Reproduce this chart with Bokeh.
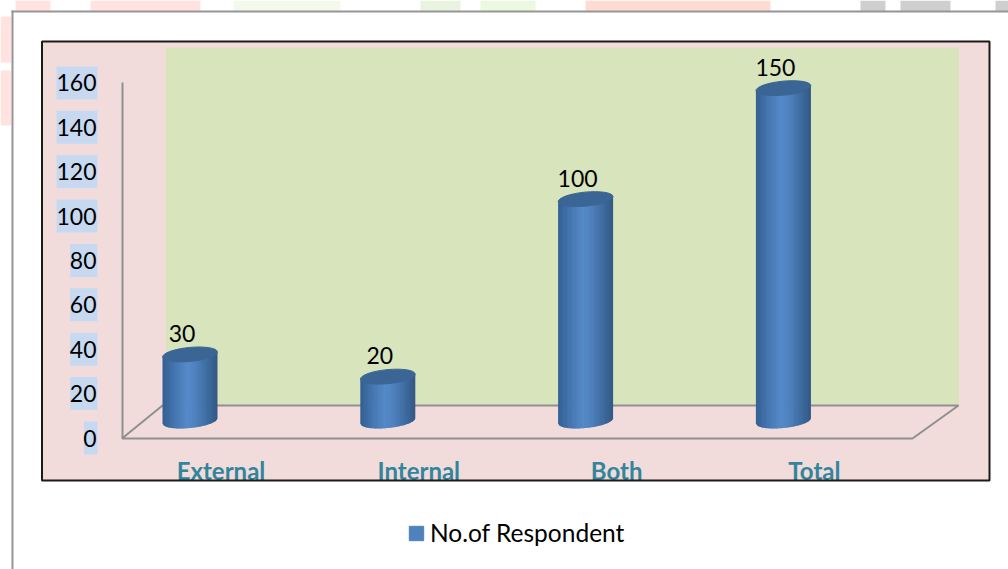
import numpy as np
from bokeh.plotting import figure
from bokeh.embed import file_html
from bokeh.resources import INLINE
from bokeh.core.properties import value
from bokeh.models import (BoxAnnotation, PolyAnnotation, FixedTicker, Legend, LegendItem,
                          ColumnDataSource, Range1d)

categories = ["External", "Internal", "Both", "Total"]
respondents = [30, 20, 100, 150]
y_ticks = [0, 20, 40, 60, 80, 100, 120, 140, 160]
series_name = "No.of Respondent"

W, H = 1008, 569
AX_X, AX_Y = 122, 437.5   # where value 0 / first category axis sit, in pixels
PX_Y = 2.219
PX_X = 197.8
X0 = 189.5
LABEL_SHIFT = 31.0 / PX_X   # category labels sit at the front of the 3D floor

p = figure(width=W, height=H, output_backend="svg", toolbar_location=None,
           min_border=0,
           x_range=Range1d((0 - X0) / PX_X, (W - X0) / PX_X),
           y_range=Range1d((AX_Y - H) / PX_Y, AX_Y / PX_Y))
p.background_fill_color = "white"
p.border_fill_color = "white"
p.outline_line_color = None
p.grid.visible = False

def fy(v):
    return H - v

def box(l, t, r, b, color, level="underlay", line=None, lw=0):
    p.add_layout(BoxAnnotation(left=l, right=r, top=fy(t), bottom=fy(b),
                               left_units="screen", right_units="screen",
                               top_units="screen", bottom_units="screen",
                               fill_color=color, fill_alpha=1 if color else 0,
                               line_color=line, line_alpha=1, line_width=lw, level=level))

# faint page watermark slivers
for l, r, c in [(15, 50, "#ffe3e0"), (90, 200, "#ffe3e0"), (233, 340, "#f3f9ec"), (420, 460, "#eaf3e0"),
                (480, 535, "#ecf8e0"), (585, 770, "#ffdbd2"), (860, 885, "#cfcfcf"),
                (900, 950, "#cfcfcf"), (995, 1008, "#cfcfcf")]:
    box(l, 0, r, 11, c)
for t, b in [(16, 62), (70, 125)]:
    box(0, t, 11, b, "#ffe3e0")

# outer page rule
box(11, 10, 13, H, "#969696")
box(11, 10, W, 12, "#969696")

# chart area and back wall
box(41.5, 41, 989, 480, "#f2dcdb")
box(165.5, 47, 958.5, 404, "#d7e4bc")

# floor
p.add_layout(PolyAnnotation(xs=[121.5, 912, 958, 162],
                            ys=[fy(v) for v in [438, 438, 405, 405]],
                            xs_units="screen", ys_units="screen",
                            fill_color="#f2dcdb", fill_alpha=1, line_color="#8f8f8f",
                            line_alpha=1, line_width=2, level="underlay"))

# tick label backgrounds
for t in y_ticks:
    w = 13.67 * len(str(t))
    p.add_layout(BoxAnnotation(left=97 - w, right=97, top=t + 16.5 / PX_Y,
                               bottom=t - 16.5 / PX_Y,
                               left_units="screen", right_units="screen",
                               top_units="data", bottom_units="data",
                               fill_color="#c6d9f1", fill_alpha=1, line_color=None,
                               level="underlay"))

# axes
ya = p.yaxis[0]
ya.fixed_location = (AX_X - X0) / PX_X
ya.ticker = FixedTicker(ticks=y_ticks)
ya.bounds = (0, 160)
ya.axis_line_color = "#8f8f8f"
ya.axis_line_width = 2
ya.major_tick_line_color = None
ya.minor_tick_line_color = None
ya.major_label_standoff = 20
ya.major_label_text_font = "Lato"
ya.major_label_text_font_size = "23px"
ya.major_label_text_color = "#000000"

xa = p.xaxis[0]
xa.fixed_location = 0
label_ticks = [i + LABEL_SHIFT for i in range(len(categories))]
xa.ticker = FixedTicker(ticks=label_ticks)
xa.major_label_overrides = {t: c for t, c in zip(label_ticks, categories)}
xa.axis_line_color = None
xa.major_tick_line_color = None
xa.minor_tick_line_color = None
xa.major_label_standoff = 12
xa.major_label_text_font = "Lato"
xa.major_label_text_font_style = "bold"
xa.major_label_text_font_size = "24px"
xa.major_label_text_color = "#31859c"

# cylinders
BODY_W, ELL_H, TILT = 55.0, 14.0, np.radians(5.5)
DEPTH = 17.0 / PX_Y
N = 44
edges = np.linspace(-BODY_W / 2, BODY_W / 2, N + 1)
stops_t = [0.0, 0.18, 0.45, 0.62, 0.85, 1.0]
stops_c = np.array([[0x33, 0x60, 0x93], [0x42, 0x72, 0xab], [0x55, 0x8a, 0xca],
                    [0x4e, 0x80, 0xbc], [0x3c, 0x68, 0x9b], [0x33, 0x58, 0x85]], float)

def lower(dx):
    a, b = BODY_W / 2, ELL_H / 2
    u = np.clip(dx / a, -1, 1)
    return b * np.sqrt(1 - u * u) - np.tan(TILT) * dx

xs, ys, cols = [], [], []
for i, v in enumerate(respondents):
    top = v + DEPTH
    for k in range(N):
        d0, d1 = edges[k], min(edges[k + 1] + 0.7, BODY_W / 2)
        xs.append([i + d0 / PX_X, i + d1 / PX_X, i + d1 / PX_X, i + d0 / PX_X])
        ys.append([top + np.tan(TILT) * d0 / PX_Y, top + np.tan(TILT) * d1 / PX_Y,
                   DEPTH - lower(d1) / PX_Y, DEPTH - lower(d0) / PX_Y])
        t = (k + 0.5) / N
        rgb = [int(np.interp(t, stops_t, stops_c[:, j])) for j in range(3)]
        cols.append("#%02x%02x%02x" % tuple(rgb))
p.patches(xs, ys, fill_color=cols, line_color=None)

tops = ColumnDataSource(dict(x=list(range(len(categories))),
                             y=[v + DEPTH for v in respondents],
                             label=[str(v) for v in respondents]))
p.ellipse("x", "y", source=tops, width=BODY_W, height=ELL_H, width_units="screen",
          height_units="screen", angle=TILT, fill_color="#3a6594", line_color="#3a6594")

p.text("x", "y", text="label", source=tops, x_offset=-8, y_offset=-21,
       text_align="center", text_baseline="middle", text_color="#000000",
       text_font=value("Lato"), text_font_size="23px")

# clip category labels at the chart border, then draw the border
box(15, 481, W, 500, "white", level="annotation")
box(41.5, 41, 989, 480, None, level="annotation", line="#1d1b16", lw=2)

# legend
swatch = p.quad(left=[np.nan], right=[np.nan], top=[np.nan], bottom=[np.nan],
                fill_color="#4f81bd", line_color="#4f81bd")
leg = Legend(items=[LegendItem(label=series_name, renderers=[swatch])],
             location=(407, H - 547), orientation="horizontal",
             background_fill_alpha=0, border_line_color=None, margin=0, padding=0,
             glyph_width=18, glyph_height=18, label_standoff=5,
             label_text_font="Lato", label_text_font_size="24.5px", label_text_color="#000000")
p.add_layout(leg, "center")

open("out.html", "w").write(file_html(p, INLINE))
